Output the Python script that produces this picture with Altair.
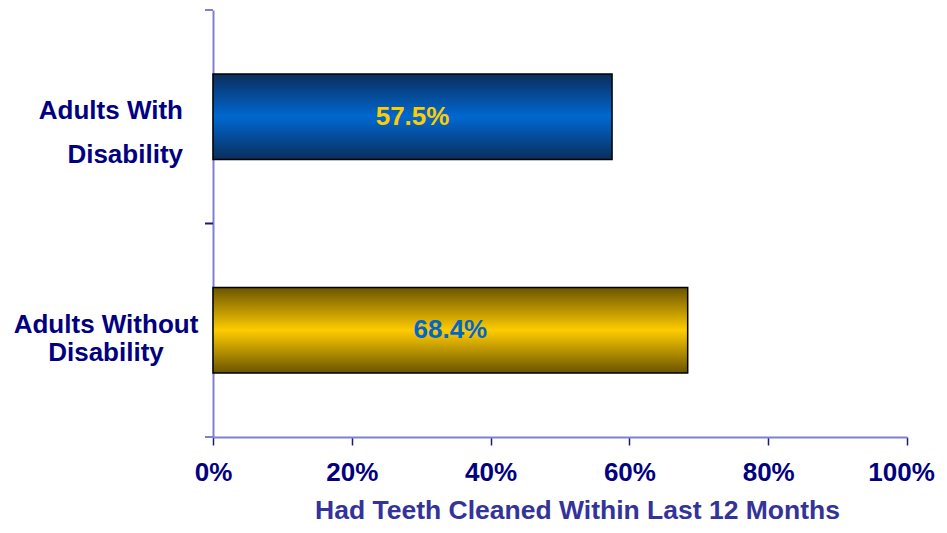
import altair as alt
import pandas as pd

categories = ["Adults With Disability", "Adults Without Disability"]
label_lines = [["Adults With", "Disability"], ["Adults Without", "Disability"]]
values = [57.5, 68.4]
x_ticks = [0, 0.2, 0.4, 0.6, 0.8, 1.0]
y_tick_positions = [0, 1, 2]  # band boundaries (in band-step units)
x_title = "Had Teeth Cleaned Within Last 12 Months"

df = pd.DataFrame({
    "group": categories,
    "pct": [v / 100 for v in values],
    "lines": ["\n".join(l) for l in label_lines],
})
ticks_df = pd.DataFrame({"b": y_tick_positions})

FONT = "Liberation Sans"
NAVY = "#000080"
AXIS_LINE = "#8080D0"
TICK = "#1A1A70"

def grad(dark, light):
    return alt.Gradient(
        gradient="linear",
        stops=[
            alt.GradientStop(color=dark, offset=0),
            alt.GradientStop(color=light, offset=0.5),
            alt.GradientStop(color=dark, offset=1),
        ],
        x1=0, x2=0, y1=0, y2=1,
    )

y_enc = alt.Y(
    "group:N",
    sort=categories,
    scale=alt.Scale(paddingInner=0.6, paddingOuter=0.3),
    axis=alt.Axis(
        title=None,
        labels=False,
        ticks=False,
        domainColor=AXIS_LINE,
        domainWidth=2,
    ),
)

x_axis = alt.Axis(
    title=x_title,
    values=x_ticks,
    format="%",
    labelFont=FONT,
    labelFontSize=26,
    labelFontWeight="bold",
    labelColor=NAVY,
    labelPadding=14,
    labelFlush=False,
    labelOffset={"condition": {"test": "datum.value == 1", "value": -6}, "value": 0},
    tickSize=8,
    tickColor=TICK,
    tickWidth=1.5,
    domainColor=AXIS_LINE,
    domainWidth=2,
    grid=False,
    titleFont=FONT,
    titleFontSize=26.5,
    titleFontWeight="bold",
    titleColor="#333399",
    titlePadding=12,
    titleX=364,
)
x_scale = alt.Scale(domain=[0, 1], nice=False)

bar_blue = alt.Chart(df).transform_filter(
    alt.datum.group == categories[0]
).mark_bar(
    color=grad("#0A2E5C", "#0068D0"), stroke="#000000", strokeWidth=1.5
).encode(
    x=alt.X("pct:Q", scale=x_scale, axis=x_axis),
    y=y_enc,
)

bar_yellow = alt.Chart(df).transform_filter(
    alt.datum.group == categories[1]
).mark_bar(
    color=grad("#6A5400", "#FFCC00"), stroke="#000000", strokeWidth=1.5
).encode(
    x=alt.X("pct:Q", scale=x_scale, axis=x_axis),
    y=y_enc,
)

labels = alt.Chart(df).transform_calculate(
    mid="datum.pct / 2"
).mark_text(
    font=FONT, fontSize=26, fontWeight="bold", align="center", baseline="middle"
).encode(
    x=alt.X("mid:Q", scale=x_scale, axis=x_axis),
    y=y_enc,
    text=alt.Text("pct:Q", format=".1%"),
    color=alt.condition(
        alt.datum.group == categories[0], alt.value("#FFCC00"), alt.value("#0066CC")
    ),
)

cat_label_1 = alt.Chart(df).transform_filter(
    alt.datum.group == categories[0]
).mark_text(
    font=FONT, fontSize=26, fontWeight="bold", color=NAVY,
    align="right", baseline="middle", lineHeight=44, lineBreak="\n", dy=-6,
).encode(
    x=alt.value(-30),
    y=y_enc,
    text="lines:N",
)

cat_label_2 = alt.Chart(df).transform_filter(
    alt.datum.group == categories[1]
).mark_text(
    font=FONT, fontSize=26, fontWeight="bold", color=NAVY,
    align="center", baseline="middle", lineHeight=28, lineBreak="\n", dy=-5,
).encode(
    x=alt.value(-107),
    y=y_enc,
    text="lines:N",
)

bars = alt.layer(bar_blue, bar_yellow, labels, cat_label_1, cat_label_2)

y_ticks = alt.Chart(ticks_df).mark_rule(strokeWidth=2).encode(
    x=alt.value(-8),
    x2=alt.value(0),
    y=alt.Y("b:Q", scale=alt.Scale(domain=[0, 2], nice=False, zero=False, reverse=True), axis=None),
    color=alt.condition(alt.datum.b == 1, alt.value(TICK), alt.value(AXIS_LINE)),
)

chart = alt.layer(bars, y_ticks).resolve_scale(y="independent").properties(
    width=694,
    height=427,
    autosize=alt.AutoSizeParams(type="none"),
    padding={"left": 205, "top": 2, "right": 31, "bottom": 87},
).configure(background="white").configure_view(stroke=None)

chart.save("out.html", embed_options={"renderer": "svg", "actions": False})
